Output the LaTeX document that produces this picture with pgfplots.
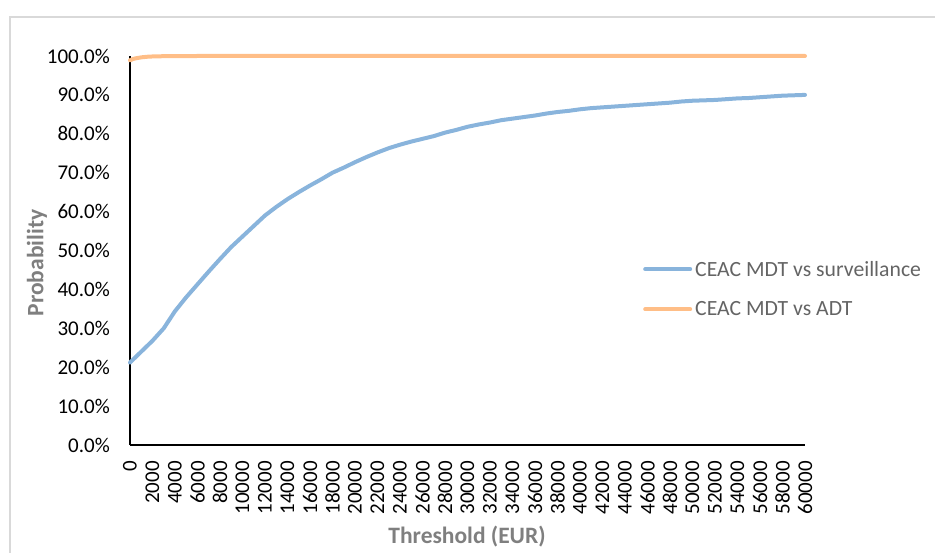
\documentclass[border=0pt]{standalone}
\usepackage{pgfplots}
\pgfplotsset{compat=1.18}
\usepackage{fontspec}
\setmainfont{Carlito}
\definecolor{ceacblue}{RGB}{137,180,220}
\definecolor{ceacorange}{RGB}{255,190,135}
\definecolor{titlegray}{RGB}{127,127,127}
\definecolor{legendgray}{RGB}{100,100,100}
\definecolor{framegray}{RGB}{217,217,217}
\begin{document}
\begin{tikzpicture}[x=1pt,y=1pt]
\useasboundingbox (0,0) rectangle (935,552);
\draw[framegray, line width=2pt] (10,-10) -- (10,535) -- (945,535);
\begin{axis}[
  at={(130pt,107pt)}, anchor=south west,
  width=675pt, height=389pt, scale only axis,
  xmin=0, xmax=60000, ymin=0, ymax=100,
  clip=false,
  axis x line*=bottom, axis y line*=left,
  axis line style={black, line width=2pt, -},
  major tick length=0pt,
  scaled x ticks=false,
  /pgf/number format/assume math mode=true,
  xtick={0,2000,...,60000},
  xticklabel={\pgfmathprintnumber[fixed,1000 sep={}]{\tick}},
  ytick={0,10,...,100},
  yticklabels={0.0\%,10.0\%,20.0\%,30.0\%,40.0\%,50.0\%,60.0\%,70.0\%,80.0\%,90.0\%,100.0\%},
  tick label style={font=\fontsize{21}{25}\selectfont, text=black},
  yticklabel style={anchor=east, inner sep=0pt, xshift=-20pt},
  xticklabel style={yshift=-16pt, rotate=90, anchor=east, inner sep=0pt},
  xlabel={Threshold (EUR)},
  ylabel={Probability},
  label style={font=\fontsize{23.5}{28}\selectfont\bfseries, text=titlegray},
  xlabel style={at={(axis description cs:0.4993,-0.2365)}, anchor=center},
  ylabel style={at={(axis description cs:-0.1378,0.468)}, anchor=center},
  legend style={at={(axis description cs:0.760,0.401)}, anchor=west,
    draw=none, fill=none, inner sep=0pt, row sep=18pt,
    font=\fontsize{21.7}{25}\selectfont, text=legendgray,
    nodes={inner sep=3pt}},
  legend cell align=left,
  legend image code/.code={\draw[#1] (2pt,0pt) -- (47pt,0pt);},
]
\addplot[ceacblue, line width=4pt, line cap=round, line join=round] coordinates {
(0,21.2) (1000,24.0) (2000,26.8) (3000,30.0) (4000,34.4) (5000,38.0)
(6000,41.3) (7000,44.6) (8000,47.8) (9000,50.9) (10000,53.6) (11000,56.3)
(12000,59.0) (13000,61.2) (14000,63.2) (15000,65.0) (16000,66.7) (17000,68.3)
(18000,70.0) (19000,71.3) (20000,72.7) (21000,74.0) (22000,75.2) (23000,76.3)
(24000,77.2) (25000,78.0) (26000,78.7) (27000,79.4) (28000,80.3) (29000,81.0)
(30000,81.8) (31000,82.4) (32000,82.9) (33000,83.5) (34000,83.9) (35000,84.3)
(36000,84.7) (37000,85.2) (38000,85.6) (39000,85.9) (40000,86.3) (41000,86.6)
(42000,86.8) (43000,87.0) (44000,87.2) (45000,87.4) (46000,87.6) (47000,87.8)
(48000,88.0) (49000,88.3) (50000,88.5) (51000,88.6) (52000,88.7) (53000,88.9)
(54000,89.1) (55000,89.2) (56000,89.4) (57000,89.6) (58000,89.8) (59000,89.9)
(60000,90.0)
};
\addlegendentry{CEAC MDT vs surveillance}
\addplot[ceacorange, line width=4pt, line cap=round, line join=round] coordinates {
(0,98.9) (250,99.2) (500,99.4) (1000,99.65) (1500,99.8) (2000,99.88)
(3000,99.95) (4000,99.98) (6000,100) (10000,100) (20000,100) (30000,100)
(40000,100) (50000,100) (60000,100)
};
\addlegendentry{CEAC MDT vs ADT}
\end{axis}
\end{tikzpicture}
\end{document}
